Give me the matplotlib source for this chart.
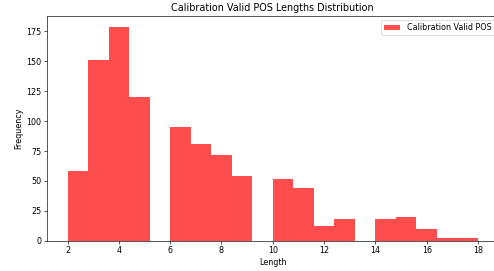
import matplotlib
matplotlib.use('Agg')
import matplotlib.pyplot as plt
import numpy as np

lengths = [2, 3, 4, 5, 6, 7, 8, 9, 10, 11, 12, 13, 14, 15, 16, 17, 18]
counts = [58, 151, 179, 120, 95, 81, 72, 54, 52, 44, 12, 18, 18, 20, 10, 2, 2]
label = 'Calibration Valid POS'

data = np.repeat(lengths, counts)

dpi = 57.5
fig = plt.figure(figsize=(495 / dpi, 271 / dpi), dpi=dpi)
ax = fig.add_axes([47 / 495, 1 - 240.7 / 271, (498.5 - 47) / 495, (240.7 - 16) / 271])
ax.hist(data, bins=20, color='red', alpha=0.7, label=label)
ax.set_title('Calibration Valid POS Lengths Distribution')
ax.set_xlabel('Length')
ax.set_ylabel('Frequency')
ax.legend()
fig.savefig('out.png', dpi=dpi)
